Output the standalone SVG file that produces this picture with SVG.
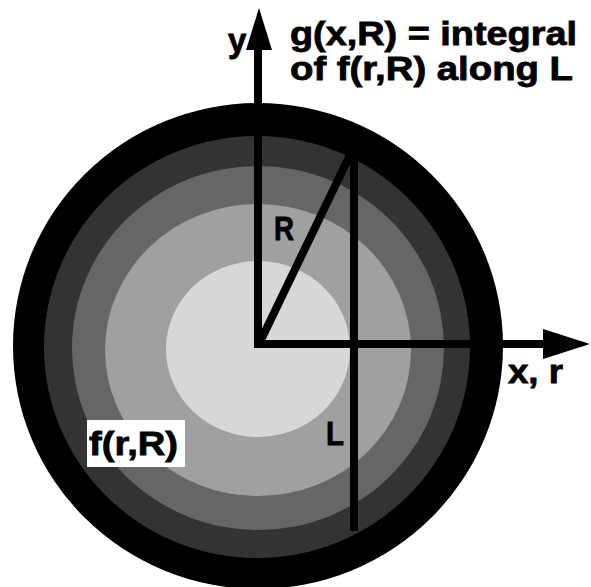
<svg xmlns="http://www.w3.org/2000/svg" width="591" height="587" viewBox="0 0 591 587">
<style>
.lbl{font-family:"Liberation Sans",Arial,sans-serif;font-weight:bold;font-size:33px;fill:#000;stroke:#000;stroke-width:0.8}
.ax{stroke:#000;stroke-width:8;fill:none;stroke-linecap:butt}
</style>
<rect width="591" height="587" fill="#fff"/>
<g id="rings">
<ellipse id="ring-outer" cx="258" cy="346" rx="245" ry="243" fill="#000"/>
<ellipse id="ring-2" cx="257" cy="347" rx="213" ry="211" fill="#333"/>
<ellipse id="ring-3" cx="258" cy="348" rx="186" ry="182" fill="#666"/>
<ellipse id="ring-4" cx="258" cy="350" rx="153" ry="146" fill="#a0a0a0"/>
<ellipse id="ring-inner" cx="258" cy="349" rx="92" ry="88" fill="#d8d8d8"/>
</g>
<g id="connectors">
<line class="ax" x1="258" y1="348" x2="258" y2="48"/>
<polygon points="259,8 246,50 272,50" fill="#000"/>
<line class="ax" x1="254" y1="344" x2="546" y2="344"/>
<polygon points="590,344 543,329 543,359" fill="#000"/>
<line class="ax" x1="260" y1="342" x2="350" y2="155"/>
<line class="ax" x1="354" y1="153" x2="354" y2="531"/>
</g>
<g id="label-y"><text class="lbl" x="228" y="52">y</text></g>
<g id="label-g"><text class="lbl" x="290" y="45" textLength="287" lengthAdjust="spacingAndGlyphs">g(x,R) = integral</text>
<text class="lbl" x="290" y="80" textLength="283" lengthAdjust="spacingAndGlyphs">of f(r,R) along L</text></g>
<g id="label-xr"><text class="lbl" x="508" y="383" textLength="55" lengthAdjust="spacingAndGlyphs">x, r</text></g>
<g id="label-R"><text class="lbl" x="274" y="240" textLength="20" lengthAdjust="spacingAndGlyphs">R</text></g>
<g id="label-L"><text class="lbl" x="326" y="445" textLength="18" lengthAdjust="spacingAndGlyphs">L</text></g>
<g id="label-f"><rect x="87" y="420" width="98" height="47" fill="#fff"/>
<text class="lbl" x="89" y="455" textLength="89" lengthAdjust="spacingAndGlyphs">f(r,R)</text></g>
</svg>
